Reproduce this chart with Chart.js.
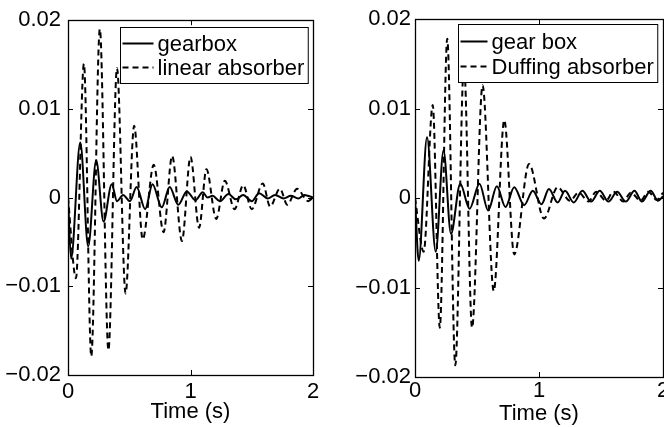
<!DOCTYPE html>
<html lang="en">

<head>
  <meta charset="UTF-8">
  <title>Gearbox vs absorber response</title>
  <script src="https://cdn.jsdelivr.net/npm/chart.js"></script>
  <style>
    body {
      margin: 0;
      width: 664px;
      height: 427px;
      overflow: hidden;
      position: relative;
      background: #fff;
    }

    canvas {
      position: absolute;
      top: 0;
    }

    #leftChart { left: 0; }
    #rightChart { left: 332px; }
  </style>
</head>

<body>

  <canvas id="leftChart" width="332" height="427"></canvas>
  <canvas id="rightChart" width="350" height="427"></canvas>

  <script>
    // axis ticks
    const xTicks = [0, 1, 2];
    const yTicks = [-0.02, -0.01, 0, 0.01, 0.02];

    // left panel: gearbox + linear absorber (time in s, displacement)
    const leftLabels = ['gearbox', 'linear absorber'];
    const leftGearT = [0, 0.025, 0.10, 0.165, 0.23, 0.29, 0.357, 0.40, 0.45, 0.506, 0.56, 0.63, 0.69, 0.765, 0.83, 0.90, 0.97, 1.04, 1.10, 1.14, 1.18, 1.24, 1.31, 1.37, 1.43, 1.50, 1.56, 1.63, 1.69, 1.76, 1.82, 1.88, 1.93, 2.0];
    const leftGearV = [0, -0.0069, 0.0062, -0.0055, 0.0042, -0.0027, 0.0015, -0.0004, 0.0003, -0.0004, 0.0012, -0.0013, 0.0015, -0.0011, 0.0012, -0.0008, 0.0007, -0.0003, 0.0006, 0.0000, 0.0002, -0.0004, 0.0004, -0.0002, 0.0003, -0.0004, 0.0005, -0.0001, 0.0003, -0.0001, 0.0002, -0.0001, 0.0003, 0.0];
    const leftAbsT = [0, 0.065, 0.13, 0.19, 0.26, 0.33, 0.40, 0.47, 0.54, 0.61, 0.70, 0.78, 0.85, 0.93, 1.00, 1.07, 1.13, 1.21, 1.28, 1.36, 1.43, 1.50, 1.59, 1.65, 1.73, 1.79, 1.87, 1.96, 2.0];
    const leftAbsV = [0, -0.0091, 0.0151, -0.0179, 0.0190, -0.0172, 0.0146, -0.0108, 0.0081, -0.0047, 0.0037, -0.0039, 0.0047, -0.0049, 0.0046, -0.0034, 0.0032, -0.0024, 0.0019, -0.0013, 0.0014, -0.0013, 0.0016, -0.0010, 0.0010, -0.0008, 0.0010, -0.0004, 0.0000];

    // right panel: gear box + Duffing absorber
    const rightLabels = ['gear box', 'Duffing absorber'];
    const rightGearT = [0, 0.03, 0.097, 0.167, 0.23, 0.29, 0.365, 0.44, 0.52, 0.59, 0.66, 0.73, 0.80, 0.88, 0.95, 1.02, 1.08, 1.15, 1.21, 1.28, 1.35, 1.42, 1.49, 1.56, 1.63, 1.70, 1.77, 1.83, 1.90, 1.96, 2.0];
    const rightGearV = [0, -0.0070, 0.0068, -0.0060, 0.0053, -0.0040, 0.0016, -0.0012, 0.0016, -0.0014, 0.0013, -0.0010, 0.0012, -0.0008, 0.0008, -0.0007, 0.0010, -0.0005, 0.0008, -0.0005, 0.0008, -0.0004, 0.0008, -0.0004, 0.0007, -0.0004, 0.0008, -0.0004, 0.0008, -0.0003, 0.0002];
    const rightAbsT = [0, 0.07, 0.143, 0.20, 0.26, 0.325, 0.395, 0.46, 0.545, 0.635, 0.72, 0.80, 0.92, 1.04, 1.15, 1.25, 1.32, 1.40, 1.46, 1.54, 1.60, 1.68, 1.74, 1.82, 1.88, 1.95, 2.0];
    const rightAbsV = [0, -0.0060, 0.0104, -0.0145, 0.0178, -0.0187, 0.0150, -0.0145, 0.0126, -0.0104, 0.0087, -0.0063, 0.0038, -0.0023, 0.0012, -0.0003, 0.0006, -0.0004, 0.0007, -0.0003, 0.0007, -0.0004, 0.0006, -0.0003, 0.0007, -0.0002, 0.0006];

    Chart.defaults.font.family = "'Liberation Sans', Arial, sans-serif";
    Chart.defaults.font.size = 22;
    Chart.defaults.color = '#000';

    function toPoints(t, v) {
      return t.map((x, i) => ({ x: x, y: v[i] }));
    }

    function fmtY(value) {
      const v = Math.round(value * 100) / 100;
      if (v === 0) return '0';
      return (v < 0 ? '\u2212' : '') + Math.abs(v).toFixed(2);
    }

    // box, inward ticks and legend like matlab
    const matlabFrame = {
      id: 'matlabFrame',
      afterDraw(chart, args, opts) {
        const ctx = chart.ctx;
        const a = chart.chartArea;
        const sx = chart.scales.x, sy = chart.scales.y;
        ctx.save();

        // legend
        ctx.font = "22px 'Liberation Sans', Arial, sans-serif";
        const ds = chart.data.datasets;
        const textW = Math.max(...ds.map(d => ctx.measureText(d.label).width));
        const boxW = opts.sample + opts.gap + textW + 6;
        const boxH = opts.rowH * ds.length + 8;
        const bx = Math.round(a.right - opts.rightInset - boxW) + 0.5;
        const by = Math.round(a.top + opts.topInset) + 0.5;
        ctx.fillStyle = '#fff';
        ctx.fillRect(bx, by, boxW, boxH);
        ctx.strokeStyle = '#000';
        ctx.lineWidth = 1;
        ctx.strokeRect(bx, by, boxW, boxH);
        ds.forEach((d, i) => {
          const ry = by + opts.firstRow + i * opts.rowH;
          ctx.beginPath();
          ctx.lineWidth = d.borderWidth;
          ctx.setLineDash(d.borderDash || []);
          ctx.moveTo(bx + 2, ry);
          ctx.lineTo(bx + 2 + opts.sample, ry);
          ctx.stroke();
          ctx.setLineDash([]);
          ctx.fillStyle = '#000';
          ctx.textBaseline = 'middle';
          ctx.textAlign = 'left';
          ctx.fillText(d.label, bx + 2 + opts.sample + opts.gap, ry + 1);
        });

        // ticks pointing inward
        ctx.lineWidth = 1;
        ctx.beginPath();
        sx.ticks.forEach(t => {
          const px = Math.round(sx.getPixelForValue(t.value)) + 0.5;
          ctx.moveTo(px, a.bottom); ctx.lineTo(px, a.bottom - 5);
          ctx.moveTo(px, a.top); ctx.lineTo(px, a.top + 5);
        });
        sy.ticks.forEach(t => {
          const py = Math.round(sy.getPixelForValue(t.value)) + 0.5;
          ctx.moveTo(a.left, py); ctx.lineTo(a.left + 5, py);
          ctx.moveTo(a.right, py); ctx.lineTo(a.right - 5, py);
        });
        ctx.stroke();

        // axes box
        ctx.lineWidth = 1.3;
        ctx.strokeRect(Math.round(a.left) + 0.5, Math.round(a.top) + 0.5,
          Math.round(a.right - a.left), Math.round(a.bottom - a.top));
        ctx.restore();
      }
    };

    function makeChart(id, labels, gearT, gearV, absT, absV, lay) {
      const ctx = document.getElementById(id).getContext('2d');
      return new Chart(ctx, {
        type: 'line',
        data: {
          datasets: [
            {
              label: labels[0],
              data: toPoints(gearT, gearV),
              borderColor: '#000',
              borderWidth: 2,
              pointRadius: 0,
              cubicInterpolationMode: 'monotone',
              order: 1
            },
            {
              label: labels[1],
              data: toPoints(absT, absV),
              borderColor: '#000',
              borderWidth: 2,
              borderDash: [6, 4],
              pointRadius: 0,
              cubicInterpolationMode: 'monotone',
              order: 0
            }
          ]
        },
        options: {
          responsive: false,
          animation: false,
          layout: {
            padding: { top: lay.top, right: lay.right, left: 0, bottom: 0 }
          },
          plugins: {
            legend: { display: false },
            tooltip: { enabled: false },
            matlabFrame: lay.legend
          },
          scales: {
            x: {
              type: 'linear',
              min: 0,
              max: 2,
              afterBuildTicks: s => { s.ticks = xTicks.map(v => ({ value: v })); },
              ticks: {
                padding: lay.xPad,
                maxRotation: 0,
                callback: v => String(v)
              },
              grid: { display: false, drawTicks: false },
              border: { display: false },
              title: {
                display: true,
                text: 'Time (s)',
                padding: { top: 0, bottom: lay.titlePad }
              },
              afterFit: s => { s.height = lay.xHeight; }
            },
            y: {
              type: 'linear',
              min: -0.02,
              max: 0.02,
              afterBuildTicks: s => { s.ticks = yTicks.map(v => ({ value: v })); },
              ticks: {
                padding: lay.yPad,
                callback: fmtY
              },
              grid: { display: false, drawTicks: false },
              border: { display: false },
              afterFit: s => { s.width = lay.yWidth; }
            }
          }
        },
        plugins: [matlabFrame]
      });
    }

    makeChart('leftChart', leftLabels, leftGearT, leftGearV, leftAbsT, leftAbsV, {
      top: 15, right: 19, xHeight: 52, yWidth: 68, yPad: 7, xPad: 4, titlePad: 2,
      legend: { rightInset: 5, topInset: 7, sample: 31, gap: 4, rowH: 24, firstRow: 16 }
    });

    makeChart('rightChart', rightLabels, rightGearT, rightGearV, rightAbsT, rightAbsV, {
      top: 19, right: 19, xHeight: 50, yWidth: 83, yPad: 4, xPad: 1, titlePad: 0,
      legend: { rightInset: 6, topInset: 5, sample: 27, gap: 4, rowH: 25, firstRow: 17 }
    });
  </script>

</body>

</html>
